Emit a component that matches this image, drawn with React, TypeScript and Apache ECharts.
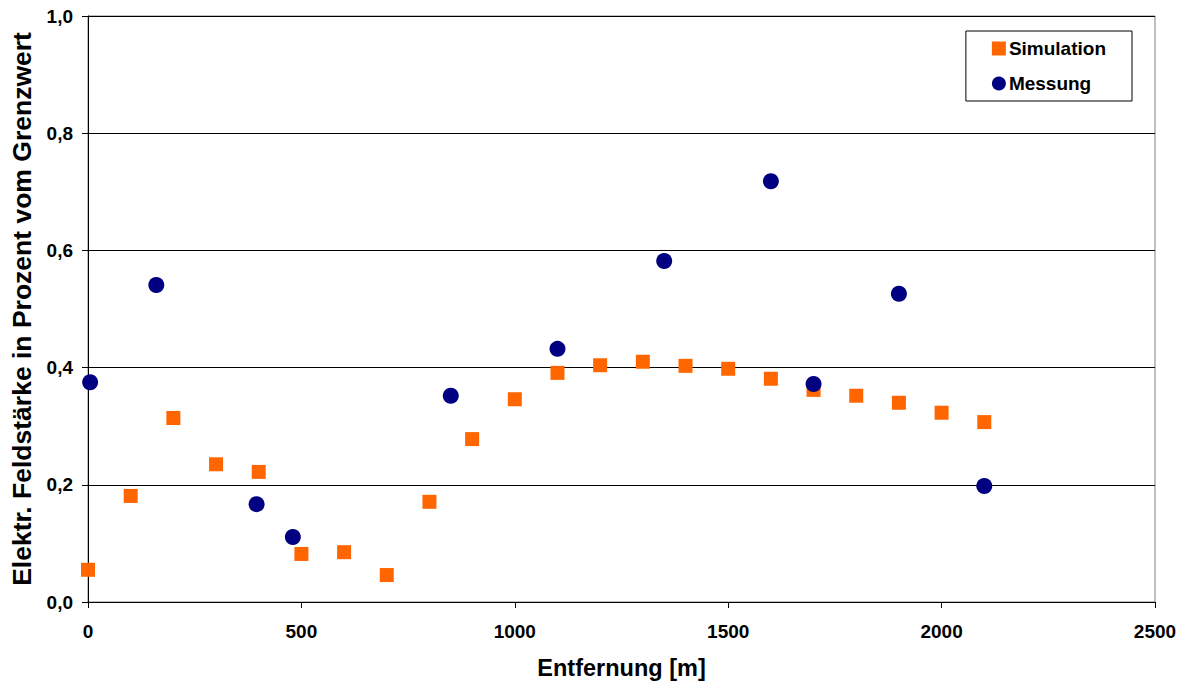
import React, { useEffect, useRef } from "react";
import * as echarts from "echarts";

const simX = [0, 100, 200, 300, 400, 500, 600, 700, 800, 900, 1000, 1100, 1200, 1300, 1400, 1500, 1600, 1700, 1800, 1900, 2000, 2100];
const simY = [0.055, 0.181, 0.314, 0.235, 0.222, 0.082, 0.085, 0.046, 0.171, 0.278, 0.346, 0.391, 0.404, 0.41, 0.403, 0.398, 0.381, 0.362, 0.352, 0.34, 0.323, 0.307];
const mesX = [5, 160, 395, 480, 850, 1100, 1350, 1600, 1700, 1900, 2100];
const mesY = [0.375, 0.541, 0.167, 0.111, 0.352, 0.432, 0.582, 0.718, 0.372, 0.526, 0.198];

const FONT = "'Liberation Sans', Arial, sans-serif";

export default function App() {
  const ref = useRef<HTMLDivElement>(null);
  useEffect(() => {
    if (!ref.current) return;
    const chart = echarts.init(ref.current, null, { renderer: "svg" });
    chart.setOption({
      animation: false,
      backgroundColor: "#fff",
      textStyle: { fontFamily: FONT },
      grid: { left: 86, right: 27, top: 16, bottom: 84, show: true, borderColor: "#808080", borderWidth: 1 },
      legend: {
        orient: "vertical",
        right: 50,
        top: 31,
        padding: [8, 26, 8, 26],
        itemGap: 16,
        itemWidth: 14,
        itemHeight: 14,
        borderColor: "#000",
        borderWidth: 1,
        backgroundColor: "#fff",
        textStyle: { fontFamily: FONT, fontWeight: "bold", fontSize: 19, color: "#000", padding: [0, 0, 0, -2] },
        data: [
          { name: "Simulation", icon: "rect" },
          { name: "Messung", icon: "circle" },
        ],
      },
      xAxis: {
        type: "value",
        min: 0,
        max: 2500,
        interval: 500,
        name: "Entfernung [m]",
        nameLocation: "middle",
        nameGap: 54,
        nameTextStyle: { fontFamily: FONT, fontWeight: "bold", fontSize: 23.5, color: "#000" },
        axisLine: { lineStyle: { color: "#000", width: 1 } },
        axisTick: { show: true, length: 6, lineStyle: { color: "#000" } },
        axisLabel: {
          fontFamily: FONT,
          fontWeight: "bold",
          fontSize: 19,
          color: "#000",
          margin: 20,
          formatter: (v: number) => String(v),
        },
        splitLine: { show: false },
      },
      yAxis: {
        type: "value",
        min: 0,
        max: 1,
        interval: 0.2,
        name: "Elektr. Feldstärke in Prozent vom Grenzwert",
        nameLocation: "middle",
        nameGap: 53,
        nameTextStyle: { fontFamily: FONT, fontWeight: "bold", fontSize: 26.5, color: "#000" },
        axisLine: { show: true, lineStyle: { color: "#000", width: 1 } },
        axisTick: { show: true, length: 6, lineStyle: { color: "#000" } },
        axisLabel: {
          fontFamily: FONT,
          fontWeight: "bold",
          fontSize: 19,
          color: "#000",
          margin: 15,
          formatter: (v: number) => v.toFixed(1).replace(".", ","),
        },
        splitLine: { show: true, lineStyle: { color: "#000", width: 1 } },
      },
      series: [
        {
          name: "Simulation",
          type: "scatter",
          symbol: "rect",
          symbolSize: 14,
          itemStyle: { color: "#FF6600", opacity: 1 },
          data: simX.map((x, i) => [x, simY[i]]),
        },
        {
          name: "Messung",
          type: "scatter",
          symbol: "circle",
          symbolSize: 16,
          itemStyle: { color: "#000080", opacity: 1 },
          data: mesX.map((x, i) => [x, mesY[i]]),
        },
      ],
    });
    return () => chart.dispose();
  }, []);
  return <div ref={ref} style={{ position: "absolute", left: 0, top: 0, width: 1182, height: 686 }} />;
}
